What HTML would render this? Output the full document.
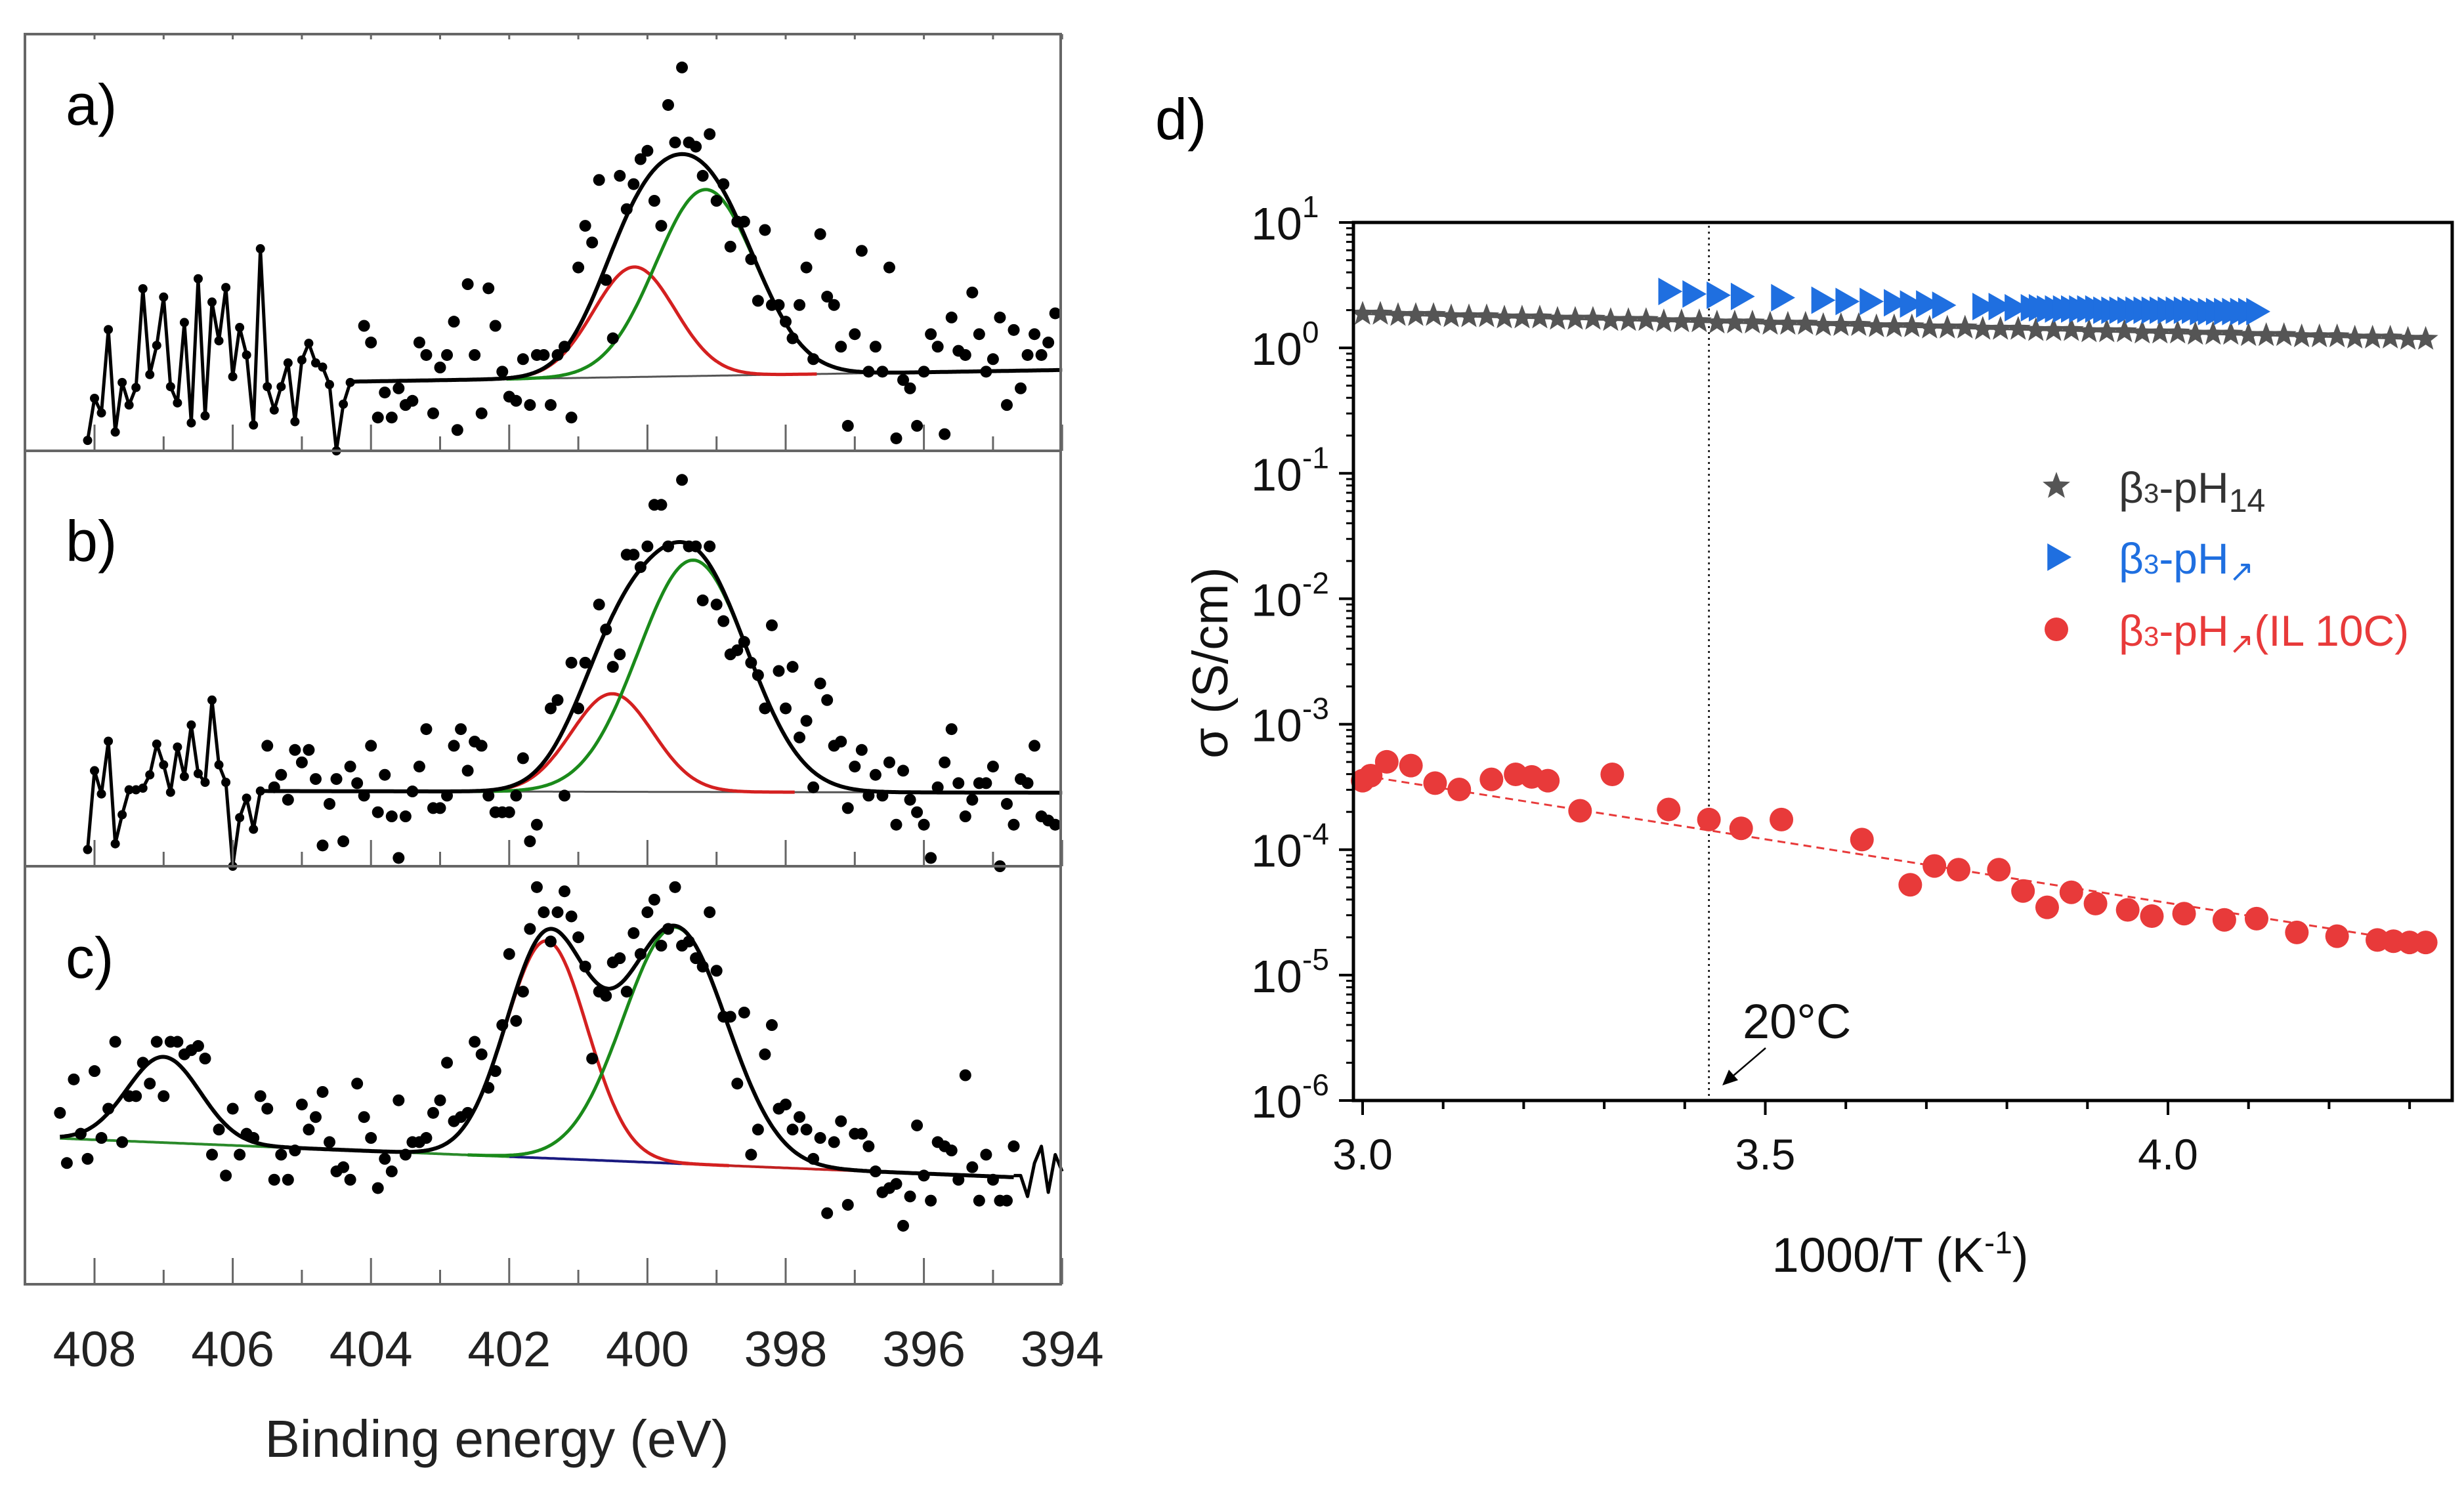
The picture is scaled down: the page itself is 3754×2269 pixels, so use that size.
<!DOCTYPE html>
<html><head><meta charset="utf-8"><style>
html,body{margin:0;padding:0;background:#fff;}
svg{display:block;font-family:"Liberation Sans",sans-serif;}
</style></head><body>
<svg id="fig" width="3754" height="2269" viewBox="0 0 3754 2269" xmlns="http://www.w3.org/2000/svg">
<rect width="3754" height="2269" fill="#fff"/>
<g id="left"></g>
<g id="right"></g>
</svg>
<script>
// ---------- XPS data (eV, fraction of panel height) ----------
const noiseA_eV=[408.1,408.0,407.9,407.8,407.7,407.6,407.5,407.4,407.3,407.2,407.1,407.0,406.9,406.8,406.7,406.6,406.5,406.4,406.3,406.2,406.1,406.0,405.9,405.8,405.7,405.6,405.5,405.4,405.3,405.2,405.1,405.0,404.9,404.8,404.7,404.6,404.5,404.4,404.3];
const noiseA_I=[0.025,0.126,0.091,0.291,0.045,0.164,0.110,0.152,0.389,0.183,0.253,0.369,0.154,0.115,0.308,0.067,0.413,0.084,0.357,0.264,0.392,0.178,0.296,0.230,0.062,0.485,0.154,0.098,0.154,0.211,0.070,0.218,0.258,0.211,0.201,0.159,0.0,0.112,0.164];
const dotsA_eV=[404.1,404.0,403.9,403.8,403.7,403.6,403.5,403.4,403.3,403.2,403.1,403.0,402.9,402.8,402.75,402.6,402.5,402.4,402.3,402.2,402.1,402.0,401.9,401.8,401.7,401.6,401.5,401.4,401.3,401.2,401.1,401.0,400.9,400.8,400.7,400.6,400.5,400.4,400.3,400.2,400.1,400.0,399.9,399.8,399.7,399.6,399.5,399.4,399.3,399.2,399.1,399.0,398.9,398.8,398.7,398.6,398.5,398.4,398.3,398.2,398.1,398.0,397.9,397.8,397.7,397.6,397.5,397.4,397.3,397.2,397.1,397.0,396.9,396.8,396.7,396.6,396.5,396.4,396.3,396.2,396.1,396.0,395.9,395.8,395.7,395.6,395.5,395.4,395.3,395.2,395.1,395.0,394.9,394.8,394.7,394.6,394.5,394.4,394.3,394.2,394.1];
const dotsA_I=[0.30,0.26,0.08,0.14,0.08,0.15,0.11,0.12,0.26,0.23,0.09,0.20,0.23,0.31,0.05,0.40,0.23,0.09,0.39,0.30,0.19,0.13,0.12,0.22,0.11,0.23,0.23,0.11,0.23,0.25,0.08,0.44,0.54,0.50,0.65,0.41,0.27,0.66,0.58,0.64,0.70,0.72,0.60,0.54,0.83,0.74,0.92,0.74,0.73,0.66,0.76,0.60,0.64,0.49,0.55,0.55,0.46,0.36,0.53,0.35,0.35,0.31,0.27,0.35,0.44,0.22,0.52,0.37,0.35,0.25,0.06,0.28,0.48,0.19,0.25,0.19,0.44,0.03,0.17,0.15,0.06,0.19,0.28,0.25,0.04,0.32,0.24,0.23,0.38,0.28,0.19,0.22,0.32,0.11,0.29,0.15,0.23,0.28,0.23,0.26,0.33];
const noiseB_eV=[408.1,408.0,407.9,407.8,407.7,407.6,407.5,407.4,407.3,407.2,407.1,407.0,406.9,406.8,406.7,406.6,406.5,406.4,406.3,406.2,406.1,406.0,405.9,405.8,405.7,405.6];
const noiseB_I=[0.040,0.230,0.174,0.301,0.054,0.124,0.184,0.184,0.188,0.220,0.294,0.244,0.178,0.287,0.216,0.340,0.223,0.202,0.400,0.244,0.202,0.0,0.117,0.164,0.089,0.181];
const dotsB_eV=[405.5,405.4,405.3,405.2,405.1,405.0,404.9,404.8,404.7,404.6,404.5,404.4,404.3,404.2,404.1,404.0,403.9,403.8,403.7,403.6,403.5,403.4,403.3,403.2,403.1,403.0,402.9,402.8,402.7,402.6,402.5,402.4,402.3,402.2,402.1,402.0,401.9,401.8,401.7,401.6,401.4,401.3,401.2,401.1,401.0,400.9,400.7,400.6,400.5,400.4,400.3,400.2,400.1,400.0,399.9,399.8,399.7,399.5,399.4,399.3,399.2,399.1,399.0,398.9,398.8,398.7,398.6,398.5,398.4,398.3,398.2,398.1,398.0,397.9,397.8,397.7,397.6,397.5,397.4,397.3,397.2,397.1,397.0,396.9,396.8,396.7,396.6,396.5,396.4,396.3,396.2,396.1,396.0,395.9,395.8,395.7,395.6,395.5,395.4,395.3,395.2,395.1,395.0,394.9,394.8,394.7,394.6,394.5,394.4,394.3,394.2,394.1];
const dotsB_I=[0.29,0.19,0.22,0.16,0.28,0.25,0.28,0.21,0.05,0.15,0.21,0.06,0.24,0.20,0.17,0.29,0.13,0.22,0.12,0.02,0.12,0.18,0.24,0.33,0.14,0.14,0.17,0.29,0.33,0.23,0.30,0.29,0.17,0.13,0.13,0.13,0.17,0.26,0.06,0.10,0.38,0.40,0.17,0.49,0.38,0.49,0.63,0.57,0.48,0.51,0.75,0.75,0.72,0.77,0.87,0.87,0.77,0.93,0.77,0.77,0.64,0.77,0.63,0.59,0.51,0.52,0.54,0.49,0.46,0.38,0.58,0.47,0.38,0.48,0.31,0.35,0.19,0.44,0.40,0.29,0.30,0.14,0.24,0.28,0.17,0.22,0.17,0.25,0.10,0.23,0.16,0.13,0.10,0.02,0.19,0.25,0.33,0.20,0.12,0.16,0.20,0.20,0.24,0.0,0.15,0.10,0.21,0.20,0.29,0.12,0.11,0.10];
const dotsC_eV=[408.5,408.4,408.3,408.2,408.1,408.0,407.9,407.8,407.7,407.6,407.5,407.4,407.3,407.2,407.1,407.0,406.9,406.8,406.7,406.6,406.5,406.4,406.3,406.2,406.1,406.0,405.9,405.8,405.7,405.6,405.5,405.4,405.3,405.2,405.1,405.0,404.9,404.8,404.7,404.6,404.5,404.4,404.3,404.2,404.1,404.0,403.9,403.8,403.7,403.6,403.5,403.4,403.3,403.2,403.1,403.0,402.9,402.8,402.7,402.6,402.5,402.4,402.3,402.2,402.1,402.0,401.9,401.8,401.7,401.6,401.5,401.4,401.3,401.2,401.1,401.0,400.9,400.8,400.7,400.6,400.5,400.4,400.3,400.2,400.1,400.0,399.9,399.8,399.7,399.6,399.5,399.4,399.3,399.2,399.1,399.0,398.9,398.8,398.7,398.6,398.5,398.4,398.3,398.2,398.1,398.0,397.9,397.8,397.7,397.6,397.5,397.4,397.3,397.2,397.1,397.0,396.9,396.8,396.7,396.6,396.5,396.4,396.3,396.2,396.1,396.0,395.9,395.8,395.7,395.6,395.5,395.4,395.3,395.2,395.1,395.0,394.9,394.8,394.7];
const dotsC_I=[0.41,0.29,0.49,0.36,0.30,0.51,0.35,0.42,0.58,0.34,0.45,0.45,0.53,0.48,0.58,0.45,0.58,0.58,0.55,0.56,0.57,0.54,0.31,0.37,0.26,0.42,0.31,0.36,0.35,0.45,0.42,0.25,0.31,0.25,0.32,0.43,0.37,0.40,0.46,0.34,0.27,0.28,0.25,0.48,0.40,0.35,0.23,0.30,0.27,0.44,0.31,0.34,0.34,0.35,0.41,0.44,0.53,0.39,0.40,0.41,0.58,0.55,0.47,0.51,0.62,0.79,0.63,0.70,0.85,0.95,0.89,0.82,0.89,0.94,0.88,0.83,0.76,0.54,0.70,0.69,0.77,0.78,0.70,0.84,0.79,0.89,0.92,0.81,0.85,0.95,0.81,0.82,0.78,0.76,0.89,0.75,0.64,0.64,0.48,0.65,0.31,0.37,0.55,0.62,0.42,0.43,0.37,0.40,0.37,0.30,0.35,0.17,0.34,0.39,0.19,0.36,0.36,0.33,0.27,0.22,0.23,0.24,0.14,0.21,0.38,0.26,0.20,0.34,0.33,0.32,0.25,0.50,0.28,0.20,0.31,0.25,0.20,0.20,0.33];
const wiggleC_eV=[394.7,394.6,394.5,394.4,394.3,394.2,394.1,394.0];
const wiggleC_I=[0.26,0.26,0.21,0.29,0.33,0.22,0.31,0.27];
const xTickLabels=["408","406","404","402","400","398","396","394"];

// ---------- Conductivity data ----------
const starX=[3.000,3.022,3.044,3.066,3.088,3.110,3.132,3.154,3.176,3.198,3.220,3.242,3.264,3.286,3.308,3.330,3.352,3.374,3.396,3.418,3.440,3.462,3.484,3.506,3.528,3.550,3.572,3.594,3.616,3.638,3.660,3.682,3.704,3.726,3.748,3.770,3.792,3.814,3.836,3.858,3.880,3.902,3.924,3.946,3.968,3.990,4.012,4.034,4.056,4.078,4.100,4.122,4.144,4.166,4.188,4.210,4.232,4.254,4.276,4.298,4.320];
const starLog=[0.27,0.27,0.26,0.26,0.26,0.25,0.25,0.25,0.24,0.24,0.24,0.23,0.23,0.23,0.22,0.22,0.22,0.21,0.21,0.21,0.20,0.20,0.20,0.19,0.19,0.19,0.18,0.18,0.18,0.17,0.17,0.17,0.16,0.16,0.16,0.15,0.15,0.15,0.14,0.14,0.14,0.13,0.13,0.13,0.12,0.12,0.12,0.11,0.11,0.11,0.10,0.10,0.10,0.09,0.09,0.09,0.08,0.08,0.08,0.07,0.07];
const triX=[3.38,3.41,3.44,3.47,3.52,3.57,3.60,3.63,3.66,3.68,3.70,3.72,3.77,3.79,3.81,3.83,3.84,3.85,3.86,3.87,3.88,3.89,3.90,3.91,3.92,3.93,3.94,3.95,3.96,3.97,3.98,3.99,4.00,4.01,4.02,4.03,4.04,4.05,4.06,4.07,4.08,4.09,4.10,4.11];
const triLog=[0.45,0.43,0.42,0.41,0.40,0.38,0.37,0.37,0.36,0.35,0.35,0.34,0.33,0.33,0.32,0.32,0.32,0.31,0.31,0.31,0.31,0.31,0.31,0.31,0.30,0.30,0.30,0.30,0.30,0.30,0.30,0.30,0.30,0.30,0.30,0.30,0.29,0.29,0.29,0.29,0.29,0.29,0.29,0.29];
const redX=[3.00,3.01,3.03,3.06,3.09,3.12,3.16,3.19,3.21,3.23,3.27,3.31,3.38,3.43,3.47,3.52,3.62,3.68,3.71,3.74,3.79,3.82,3.85,3.88,3.91,3.95,3.98,4.02,4.07,4.11,4.16,4.21,4.26,4.28,4.30,4.32];
const redLog=[-3.45,-3.41,-3.30,-3.33,-3.47,-3.52,-3.44,-3.40,-3.42,-3.45,-3.69,-3.40,-3.68,-3.76,-3.83,-3.76,-3.92,-4.28,-4.13,-4.16,-4.16,-4.33,-4.46,-4.34,-4.43,-4.48,-4.53,-4.51,-4.56,-4.55,-4.66,-4.69,-4.72,-4.73,-4.74,-4.74];
const fitX=[3.00,4.33];
const fitLog=[-3.41,-4.76];
const yTickExp=["1","0","-1","-2","-3","-4","-5","-6"];
const yTickVal=[1,0,-1,-2,-3,-4,-5,-6];
const xTickVal=[3.0,3.5,4.0];
const xTickText=["3.0","3.5","4.0"];

const NS="http://www.w3.org/2000/svg";
function mk(tag,attrs,parent){const e=document.createElementNS(NS,tag);for(const k in attrs)e.setAttribute(k,attrs[k]);parent.appendChild(e);return e;}
const L=document.getElementById('left'), R=document.getElementById('right');

// ---------- Left panels ----------
const FX0=38,FX1=1616;
const ex=e=>144+(408-e)*105.3;
const panels=[
 {name:'a',top:52,bot:687,lab:'a)',labY:190,
  base:[404.3,0.166,394.0,0.194],peaks:[[400.19,0.264,0.59,'#d42020'],[399.16,0.447,0.72,'#1a8a1a']],
  fitFrom:404.3,fitTo:394.0,noiseE:noiseA_eV,noiseI:noiseA_I,dE:dotsA_eV,dI:dotsA_I},
 {name:'b',top:687,bot:1320,lab:'b)',labY:855,
  base:[405.6,0.181,394.0,0.177],peaks:[[400.51,0.236,0.59,'#d42020'],[399.34,0.558,0.79,'#1a8a1a']],
  fitFrom:405.6,fitTo:394.0,noiseE:noiseB_eV,noiseI:noiseB_I,dE:dotsB_eV,dI:dotsB_I},
 {name:'c',top:1320,bot:1957,lab:'c)',labY:1490,
  base:[408.5,0.349,394.7,0.256],peaks:[[407.0,0.205,0.53,null],[401.46,0.52,0.59,'#d42020'],[399.6,0.565,0.75,'#1a8a1a']],
  fitFrom:408.5,fitTo:394.7,noiseE:wiggleC_eV,noiseI:wiggleC_I,dE:dotsC_eV,dI:dotsC_I}
];
panels.forEach(p=>{
  const g=mk('g',{},L);
  
  
  const h=p.bot-p.top;
  const yy=f=>p.bot-f*h;
  const b=p.base;
  const bl=e=>b[1]+(e-b[0])*(b[3]-b[1])/(b[2]-b[0]);
  const gau=(e,pk)=>pk[1]*Math.exp(-0.5*Math.pow((e-pk[0])/pk[2],2));
  const path=(f,e0,e1)=>{let d='';for(let e=e0;e>=e1-1e-9;e-=0.02){d+=(d?'L':'M')+ex(e).toFixed(1)+','+yy(f(e)).toFixed(1);}return d;};
  if(p.name==='c'){
    const seg=[[408.5,402.0,'#2a8a2a'],[402.0,399.5,'#1a1a80'],[399.5,396.5,'#c02020']];
    seg.forEach(s=>{const l=mk('path',{d:path(bl,s[0],s[1]),stroke:s[2],'stroke-width':4,fill:'none'},g);
      });
  } else {
    const l=mk('path',{d:path(bl,p.fitFrom,p.fitTo),stroke:'#555','stroke-width':3,fill:'none'},g);
    
  }
  p.peaks.forEach(pk=>{ if(!pk[3])return;
    const l=mk('path',{d:path(e=>bl(e)+gau(e,pk),pk[0]+4*pk[2],pk[0]-4.5*pk[2]),stroke:pk[3],'stroke-width':5,fill:'none'},g);
    });
  const env=mk('path',{d:path(e=>bl(e)+p.peaks.reduce((s,pk)=>s+gau(e,pk),0),p.fitFrom,p.fitTo),stroke:'#000','stroke-width':6,fill:'none'},g);
  
  let d='';p.noiseE.forEach((e,i)=>{d+=(i?'L':'M')+ex(e).toFixed(1)+','+yy(p.noiseI[i]).toFixed(1);});
  if(p.name!=='c'){d+='L'+ex(p.fitFrom).toFixed(1)+','+yy(bl(p.fitFrom)).toFixed(1);}
  const nl=mk('path',{d:d,stroke:'#000','stroke-width':5,fill:'none','stroke-linejoin':'round'},g);
  
  if(p.name!=='c'){p.noiseE.forEach((e,i)=>{const c=mk('circle',{cx:ex(e),cy:yy(p.noiseI[i]),r:7,fill:'#000'},g);
    });}
  p.dE.forEach((e,i)=>{const c=mk('circle',{cx:ex(e),cy:yy(p.dI[i]),r:9,fill:'#000'},g);
    });
  const fr=mk('rect',{x:FX0,y:p.top,width:FX1-FX0,height:h,fill:'none',stroke:'#666','stroke-width':4},g);
  
  for(let e=408;e>=394;e--){const maj=(e%2===0);
    const t=mk('line',{x1:ex(e),x2:ex(e),y1:p.bot,y2:p.bot-(maj?40:22),stroke:'#666','stroke-width':3},g);
    
    if(p.name==='a'){const t2=mk('line',{x1:ex(e),x2:ex(e),y1:p.top,y2:p.top+8,stroke:'#666','stroke-width':3},g);
      }}
  const lt=mk('text',{x:100,y:p.labY,'font-size':88,fill:'#000'},g);lt.textContent=p.lab;
  
});
xTickLabels.forEach(s=>{const t=mk('text',{x:ex(+s),y:2082,'font-size':76,'text-anchor':'middle',fill:'#222'},L);t.textContent=s;
  });
const xt=mk('text',{x:757,y:2220,'font-size':80,'text-anchor':'middle',fill:'#222'},L);xt.textContent='Binding energy (eV)';


// ---------- Right chart ----------
const PX0=2062,PX1=3736,PY0=339,PY1=1677;
const sx=v=>2076+(v-3.0)*1227;
const sy=lg=>PY0+(1-lg)*(PY1-PY0)/7;
const dl=mk('text',{x:1760,y:212,'font-size':88,fill:'#000'},R);dl.textContent='d)';

yTickVal.forEach((v,i)=>{
  const t=mk('line',{x1:PX0-22,x2:PX0,y1:sy(v),y2:sy(v),stroke:'#000','stroke-width':4},R);
  
  if(v>-6){for(let m=2;m<=9;m++){const yy=sy(v-1+Math.log10(m));
    const mt=mk('line',{x1:PX0-11,x2:PX0,y1:yy,y2:yy,stroke:'#000','stroke-width':3},R);
    }}
  const tx=mk('text',{x:1906,y:sy(v)+26,'font-size':70,fill:'#111'},R);
  
  tx.textContent='10';
  const sp=mk('tspan',{dy:-34,'font-size':46},tx);sp.textContent=yTickExp[i];
});
for(let k=0;k<=13;k++){const v=3.0+k*0.1;const maj=(k%5===0);
  const t=mk('line',{x1:sx(v),x2:sx(v),y1:PY1,y2:PY1+(maj?22:13),stroke:'#000','stroke-width':4},R);
  }
xTickVal.forEach((v,i)=>{const t=mk('text',{x:sx(v),y:1782,'font-size':66,'text-anchor':'middle',fill:'#111'},R);t.textContent=xTickText[i];
  });
const xT=mk('text',{x:2895,y:1938,'font-size':74,'text-anchor':'middle',fill:'#111'},R);

xT.textContent='1000/T (K';const xs=mk('tspan',{dy:-28,'font-size':48},xT);xs.textContent='-1';const xs2=mk('tspan',{dy:28},xT);xs2.textContent=')';
const yT=mk('text',{x:1870,y:1010,'font-size':76,'text-anchor':'middle',fill:'#111',transform:'rotate(-90 1870 1010)'},R);
yT.textContent='σ (S/cm)';
const vl=mk('line',{x1:sx(3.43),x2:sx(3.43),y1:PY0+5,y2:PY1,stroke:'#000','stroke-width':2.5,'stroke-dasharray':'3,6'},R);

const sl=mk('line',{x1:sx(starX[0]),y1:sy(starLog[0]),x2:sx(starX[starX.length-1]),y2:sy(starLog[starLog.length-1]),stroke:'#555','stroke-width':3},R);

function starPath(cx,cy,r){let d='';for(let i=0;i<10;i++){const a=-Math.PI/2+i*Math.PI/5;const rr=i%2?r*0.42:r;d+=(i?'L':'M')+(cx+rr*Math.cos(a)).toFixed(1)+','+(cy+rr*Math.sin(a)).toFixed(1);}return d+'Z';}
starX.forEach((x,i)=>{const s=mk('path',{d:starPath(sx(x),sy(starLog[i]),20),fill:'#555'},R);
  });
function triPath(cx,cy,r){return 'M'+(cx-r*0.75)+','+(cy-r)+'L'+(cx+r)+','+cy+'L'+(cx-r*0.75)+','+(cy+r)+'Z';}
triX.forEach((x,i)=>{const s=mk('path',{d:triPath(sx(x),sy(triLog[i]),21),fill:'#1f6fe0'},R);
  });
const fl=mk('line',{x1:sx(fitX[0]),y1:sy(fitLog[0]),x2:sx(fitX[1]),y2:sy(fitLog[1]),stroke:'#e83a3a','stroke-width':3,'stroke-dasharray':'12,8'},R);

redX.forEach((x,i)=>{const c=mk('circle',{cx:sx(x),cy:sy(redLog[i]),r:18,fill:'#e83a3a'},R);
  });
const fr=mk('rect',{x:PX0,y:PY0,width:PX1-PX0,height:PY1-PY0,fill:'none',stroke:'#000','stroke-width':5},R);

const an=mk('text',{x:2655,y:1582,'font-size':74,fill:'#111'},R);an.textContent='20°C';

const ar=mk('line',{x1:2690,y1:1597,x2:2634,y2:1645,stroke:'#000','stroke-width':2.5},R);

const ah=mk('path',{d:'M2624,1654 L2634,1630 L2648,1646 Z',fill:'#000'},R);

const lg=mk('g',{},R);
const e1=mk('path',{d:starPath(3133,741,22),fill:'#555'},lg);
const e2=mk('path',{d:triPath(3135,849,21),fill:'#1f6fe0'},lg);
const e3=mk('circle',{cx:3133,cy:959,r:18,fill:'#e83a3a'},lg);
const t1=mk('text',{x:3228,y:766,'font-size':66,fill:'#333'},lg);
t1.innerHTML='β<tspan font-size="42">3</tspan>-pH<tspan font-size="50" dy="14">14</tspan>';
const t2=mk('text',{x:3228,y:874,'font-size':66,fill:'#1f6fe0'},lg);
t2.innerHTML='β<tspan font-size="42">3</tspan>-pH<tspan font-size="46" dy="12">↗</tspan>';
const t3=mk('text',{x:3228,y:984,'font-size':66,fill:'#e83a3a'},lg);
t3.innerHTML='β<tspan font-size="42">3</tspan>-pH<tspan font-size="46" dy="12">↗</tspan><tspan dy="-12">(IL 10C)</tspan>';
</script>
</body></html>
